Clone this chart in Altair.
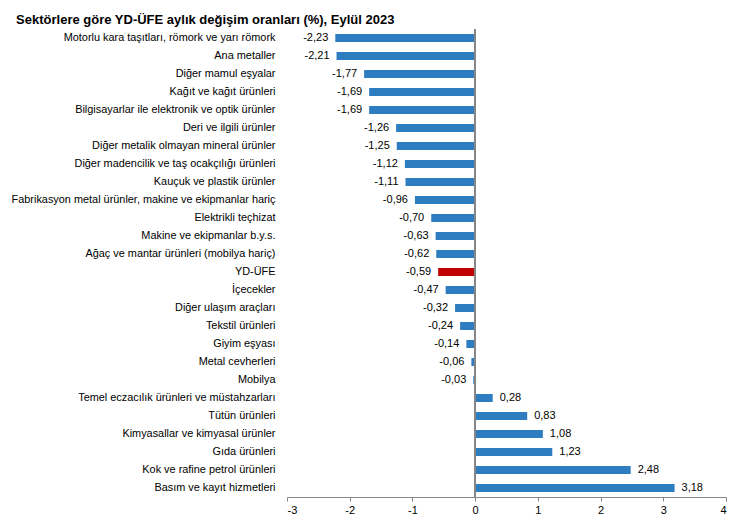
import altair as alt
import pandas as pd

categories = [
    "Motorlu kara taşıtları, römork ve yarı römork",
    "Ana metaller",
    "Diğer mamul eşyalar",
    "Kağıt ve kağıt ürünleri",
    "Bilgisayarlar ile elektronik ve optik ürünler",
    "Deri ve ilgili ürünler",
    "Diğer metalik olmayan mineral ürünler",
    "Diğer madencilik ve taş ocakçılığı ürünleri",
    "Kauçuk ve plastik ürünler",
    "Fabrikasyon metal ürünler, makine ve ekipmanlar hariç",
    "Elektrikli teçhizat",
    "Makine ve ekipmanlar b.y.s.",
    "Ağaç ve mantar ürünleri (mobilya hariç)",
    "YD-ÜFE",
    "İçecekler",
    "Diğer ulaşım araçları",
    "Tekstil ürünleri",
    "Giyim eşyası",
    "Metal cevherleri",
    "Mobilya",
    "Temel eczacılık ürünleri ve müstahzarları",
    "Tütün ürünleri",
    "Kimyasallar ve kimyasal ürünler",
    "Gıda ürünleri",
    "Kok ve rafine petrol ürünleri",
    "Basım ve kayıt hizmetleri",
]
values = [-2.23, -2.21, -1.77, -1.69, -1.69, -1.26, -1.25, -1.12, -1.11, -0.96,
          -0.70, -0.63, -0.62, -0.59, -0.47, -0.32, -0.24, -0.14, -0.06, -0.03,
          0.28, 0.83, 1.08, 1.23, 2.48, 3.18]
x_ticks = [-3, -2, -1, 0, 1, 2, 3, 4]

df = pd.DataFrame({
    "cat": categories,
    "val": values,
    "label": [f"{v:.2f}".replace(".", ",") for v in values],
    "grp": ["total" if c == "YD-ÜFE" else "sector" for c in categories],
})

FONT = "Liberation Sans"

y = alt.Y("cat:N", sort=categories, title=None,
          axis=alt.Axis(ticks=False, domain=False, labelPadding=12,
                        labelFontSize=10.9, labelColor="#000000", labelFont=FONT,
                        labelLimit=400))
x = alt.X("val:Q", title=None,
          scale=alt.Scale(domain=[-3, 4], nice=False),
          axis=alt.Axis(values=x_ticks, grid=False, domainColor="#868686",
                        tickColor="#868686", tickSize=4, labelFontSize=11,
                        labelColor="#000000", labelFont=FONT, labelPadding=3,
                        labelExpr="toString(datum.value)"))

bars = alt.Chart(df).mark_bar(size=8).encode(
    x=x, y=y,
    color=alt.Color("grp:N", scale=alt.Scale(domain=["sector", "total"],
                                              range=["#2E7DC1", "#C00000"]),
                    legend=None),
)

neg = alt.Chart(df).transform_filter("datum.val < 0").mark_text(
    align="right", dx=-7, fontSize=11, font=FONT, color="#000000"
).encode(x=x, y=y, text="label:N")

pos = alt.Chart(df).transform_filter("datum.val >= 0").mark_text(
    align="left", dx=7, fontSize=11, font=FONT, color="#000000"
).encode(x=x, y=y, text="label:N")

zero = alt.Chart(df).mark_rule(color="#868686", strokeWidth=1).encode(x=alt.datum(0))

chart = alt.layer(bars, zero, neg, pos).properties(
    width=439, height=468,
    title=alt.TitleParams("Sektörlere göre YD-ÜFE aylık değişim oranları (%), Eylül 2023",
                          anchor="start", frame="bounds", fontSize=13, dx=5, dy=1,
                          font=FONT, fontWeight="bold", color="#000000", offset=3),
    padding={"left": 3, "top": 5, "right": 5, "bottom": 5},
).configure_view(stroke=None)

chart.save("out.html", embed_options={"renderer": "svg", "actions": False})
